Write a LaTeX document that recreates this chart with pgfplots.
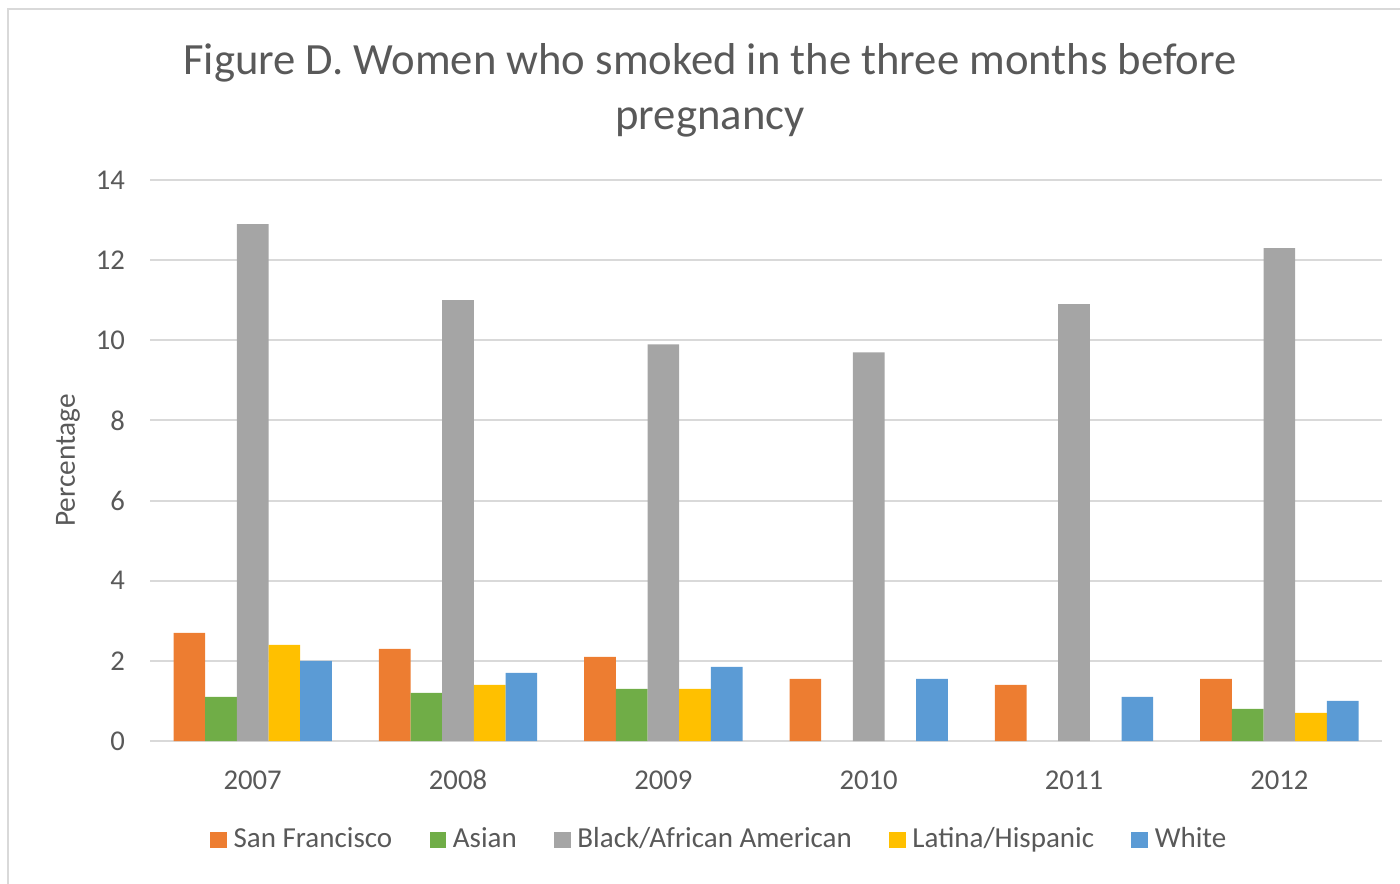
\documentclass[border=0pt]{standalone}
\usepackage{fontspec}
\setmainfont{Carlito}
\usepackage{pgfplots}
\pgfplotsset{compat=1.18}
\definecolor{sfOrange}{HTML}{ED7D31}
\definecolor{asGreen}{HTML}{70AD47}
\definecolor{blGray}{HTML}{A5A5A5}
\definecolor{laYellow}{HTML}{FFC000}
\definecolor{whBlue}{HTML}{5B9BD5}
\definecolor{txt}{HTML}{595959}
\definecolor{grid}{HTML}{D9D9D9}

\begin{document}
\begin{tikzpicture}
\path[use as bounding box] (0pt,0pt) rectangle (420pt,264.9pt);
\draw[line width=0.8pt, color=grid] (2.4pt,-10pt) rectangle (430pt,262.2pt);
% title
\node[anchor=base, font=\fontsize{13.4}{16}\selectfont, text=txt] at (213pt,242.4pt)
  {Figure D. Women who smoked in the three months before};
\node[anchor=base, font=\fontsize{13.4}{16}\selectfont, text=txt] at (213pt,225.9pt)
  {pregnancy};
\begin{axis}[
  at={(45pt,42.6pt)}, anchor=south west,
  scale only axis, width=369.6pt, height=168.3pt,
  ybar=0pt, bar width=9.5pt,
  xmin=-0.5, xmax=5.5, ymin=0, ymax=14,
  xtick={0,...,5}, xticklabels={2007,2008,2009,2010,2011,2012},
  ytick={0,2,...,14},
  ymajorgrids, grid style={line width=0.6pt, color=grid},
  axis line style={draw=none},
  major tick length=0pt,
  tick label style={font=\fontsize{8.6}{10}\selectfont, text=txt},
  /pgf/number format/assume math mode=true,
  x tick label style={yshift=-3.5pt, text height=1.6ex, text depth=0.3ex},
  y tick label style={xshift=-4pt},
  ylabel={Percentage},
  ylabel style={at={(axis description cs:-0.0666,0.5)}, anchor=center,
    font=\fontsize{8.8}{10}\selectfont, text=txt},
  legend style={at={(0.464,-0.1765)}, anchor=center, legend columns=5,
    draw=none, font=\fontsize{8.7}{10}\selectfont, text=txt,
    /tikz/every even column/.append style={column sep=9.2pt}},
  legend image code/.code={\fill[#1] (0pt,-2.5pt) rectangle (5pt,2.5pt);},
]
\addplot[fill=sfOrange, draw=none] coordinates {
  (0,2.7) (1,2.3) (2,2.1) (3,1.55) (4,1.4) (5,1.55)};
\addplot[fill=asGreen, draw=none] coordinates {
  (0,1.1) (1,1.2) (2,1.3) (5,0.8)};
\addplot[fill=blGray, draw=none] coordinates {
  (0,12.9) (1,11.0) (2,9.9) (3,9.7) (4,10.9) (5,12.3)};
\addplot[fill=laYellow, draw=none] coordinates {
  (0,2.4) (1,1.4) (2,1.3) (5,0.7)};
\addplot[fill=whBlue, draw=none] coordinates {
  (0,2.0) (1,1.7) (2,1.85) (3,1.55) (4,1.1) (5,1.0)};
\legend{San Francisco, Asian, Black/African American, Latina/Hispanic, White}
\end{axis}
\end{tikzpicture}
\end{document}
